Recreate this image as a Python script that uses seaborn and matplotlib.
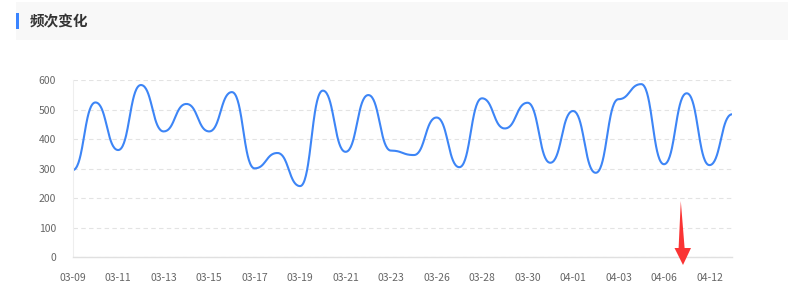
import numpy as np
import pandas as pd
import seaborn as sns
import matplotlib
matplotlib.use("Agg")
import matplotlib.pyplot as plt
from matplotlib.patches import Rectangle, Polygon

# ---- data ----
dates = ["03-09", "03-10", "03-11", "03-12", "03-13", "03-14", "03-15", "03-16",
         "03-17", "03-18", "03-19", "03-20", "03-21", "03-22", "03-23", "03-25",
         "03-26", "03-27", "03-28", "03-29", "03-30", "03-31", "04-01", "04-02",
         "04-03", "04-05", "04-06", "04-08", "04-12", "04-13"]
counts = [295, 524, 363, 583, 426, 519, 426, 559, 301, 353, 241, 564, 357, 549, 361,
          346, 473, 305, 538, 436, 523, 320, 495, 286, 535, 586, 315, 555, 312, 484]
y_ticks = [0, 100, 200, 300, 400, 500, 600]
title = "频次变化"

sns.set_theme(style="white")
plt.rcParams["font.family"] = ["Noto Sans CJK SC", "DejaVu Sans"]

W, H = 798, 307
fig = plt.figure(figsize=(W / 100, H / 100), dpi=100)


def fx(px):
    return px / W


def fy(py):
    return 1 - py / H


# header band
fig.add_artist(Rectangle((fx(16), fy(40)), fx(788) - fx(16), fy(2) - fy(40),
                         transform=fig.transFigure, facecolor="#f8f8f8", edgecolor="none"))
fig.add_artist(Rectangle((fx(15.5), fy(29)), fx(3), fy(13) - fy(29),
                         transform=fig.transFigure, facecolor="#3a84ff", edgecolor="none"))
fig.text(fx(30), fy(21.5), title, fontsize=10.5, fontweight="bold", color="#333333",
         va="center", ha="left")

# axes
left, right = 72.7, 732.2
top, bottom = 80.0, 257.3
ax = fig.add_axes([fx(left), fy(bottom), fx(right) - fx(left), fy(top) - fy(bottom)])

n = len(counts)
ymax = 600

# smooth curve: cubic Bezier between consecutive points with horizontal tangents
t = np.linspace(0, 1, 40)
xs, ys = [], []
for i in range(n - 1):
    y0, y1 = counts[i], counts[i + 1]
    bx = (3 * (1 - t) ** 2 * t * 0.5 + 3 * (1 - t) * t ** 2 * 0.5 + t ** 3)
    by = y0 * ((1 - t) ** 3 + 3 * (1 - t) ** 2 * t) + y1 * (3 * (1 - t) * t ** 2 + t ** 3)
    xs.extend(i + bx)
    ys.extend(by)
df = pd.DataFrame({"x": xs, "y": ys})

sns.lineplot(data=df, x="x", y="y", ax=ax, color="#3d85f6", linewidth=1.5, sort=False)

ax.set_xlim(0, n - 1)
ax.set_ylim(0, ymax)
ax.set_yticks(y_ticks)
ax.set_yticklabels([str(v) for v in y_ticks])
ax.set_xticks(list(range(0, n, 2)))
ax.set_xticklabels([dates[i] for i in range(0, n, 2)])
ax.set_xlabel("")
ax.set_ylabel("")
ax.tick_params(axis="both", length=0, labelsize=7.5, labelcolor="#666666")
ax.tick_params(axis="x", pad=11)
ax.tick_params(axis="y", pad=12)
ax.grid(axis="y", color="#e3e3e3", linestyle=(0, (4, 3)), linewidth=0.8)
ax.grid(axis="x", visible=False)
for s in ["top", "right"]:
    ax.spines[s].set_visible(False)
ax.spines["bottom"].set_color("#e0e0e0")
ax.spines["left"].set_color("#eeeeee")
ax.spines["bottom"].set_linewidth(1.0)
ax.spines["left"].set_linewidth(0.8)
ax.set_facecolor("white")

# red arrow annotation
arrow = [(680.8, 201), (684.6, 248), (691, 248), (683, 265), (674.5, 248), (678.6, 248)]
fig.add_artist(Polygon([(fx(a), fy(b)) for a, b in arrow], closed=True,
                       transform=fig.transFigure, facecolor="#fa3434", edgecolor="none",
                       zorder=10))

fig.savefig("out.png", dpi=100, facecolor="white")
